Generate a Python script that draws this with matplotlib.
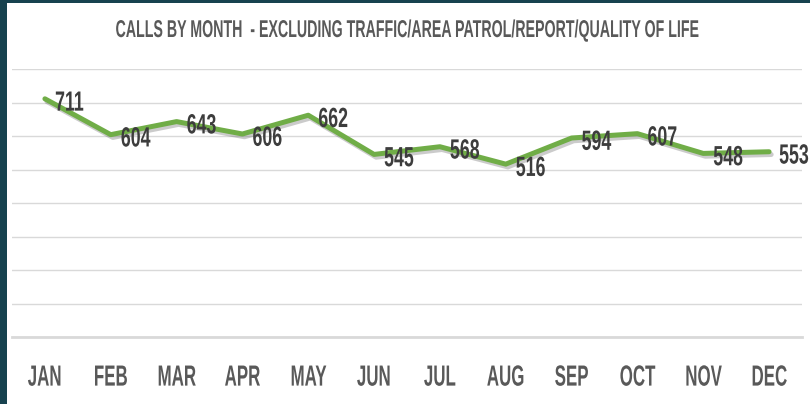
import matplotlib.pyplot as plt
import matplotlib.patheffects as pe
from matplotlib.patches import Rectangle
from matplotlib.transforms import Affine2D

months = ["JAN", "FEB", "MAR", "APR", "MAY", "JUN", "JUL", "AUG", "SEP", "OCT", "NOV", "DEC"]
calls = [711, 604, 643, 606, 662, 545, 568, 516, 594, 607, 548, 553]
title = "CALLS BY MONTH  - EXCLUDING TRAFFIC/AREA PATROL/REPORT/QUALITY OF LIFE"


class Squeeze(pe.AbstractPathEffect):
    """draw text narrower than the font (the original uses a tall narrow face)"""

    def __init__(self, sx, where="center"):
        super().__init__()
        self.sx = sx
        self.where = where

    def draw_path(self, renderer, gc, tpath, affine, rgbFace=None):
        bb = tpath.get_extents(affine)
        cx = bb.x0 if self.where == "left" else (bb.x0 + bb.x1) / 2
        t = affine + Affine2D().translate(-cx, 0).scale(self.sx, 1).translate(cx, 0)
        renderer.draw_path(gc, tpath, t, rgbFace)


FONT = "Liberation Sans"

fig = plt.figure(figsize=(8.1, 4.04), dpi=100)
fig.patch.set_facecolor("#17424f")
# white panel, teal strip stays on the left and top
fig.patches.append(Rectangle((7 / 810, 0), 1, 1 - 3 / 404, transform=fig.transFigure,
                             facecolor="white", edgecolor="none", zorder=-5))

ax = fig.add_axes([12 / 810, 1 - 337 / 404, 790 / 810, 268 / 404])
ax.set_facecolor("none")
ax.set_zorder(2)

x = list(range(len(months)))
ax.plot(x, calls, color="#70ad47", lw=3.6, solid_capstyle="round", solid_joinstyle="round", zorder=3,
        path_effects=[pe.SimpleLineShadow(offset=(1.5, -2), alpha=0.3, shadow_color="#555555"),
                      pe.Normal()])

for i, v in enumerate(calls):
    ax.annotate(str(v), (i, v), xytext=(7, -8.5), textcoords="offset points",
                ha="left", va="baseline", family=FONT, fontweight="bold", fontsize=20,
                color="#3d3d3d", zorder=4, path_effects=[Squeeze(0.64, "left")])

ax.set_xlim(-0.5, 11.5)
ax.set_ylim(0, 800)
ax.set_yticks(range(0, 801, 100))
ax.set_yticklabels([])
ax.grid(axis="y", color="#d9d9d9", lw=1)
ax.set_axisbelow(True)
ax.tick_params(axis="y", length=0)
ax.set_xticks(x)
ax.set_xticklabels(months, family=FONT, fontweight="bold", fontsize=21, color="#595959")
for t in ax.get_xticklabels():
    t.set_va("baseline")
    t.set_path_effects([Squeeze(0.58)])
ax.tick_params(axis="x", length=0, pad=35)
for s in ["top", "right", "left"]:
    ax.spines[s].set_visible(False)
ax.spines["bottom"].set_color("#d9d9d9")
ax.spines["bottom"].set_linewidth(2)

ttl = fig.text(406 / 810, 1 - 37 / 404, title, ha="center", va="baseline",
               family=FONT, fontweight="bold", fontsize=17.5, color="#595959")
w = ttl.get_window_extent(fig.canvas.get_renderer()).width
ttl.set_path_effects([Squeeze(582 / w)])

fig.savefig("out.png", dpi=100, facecolor=fig.get_facecolor())
